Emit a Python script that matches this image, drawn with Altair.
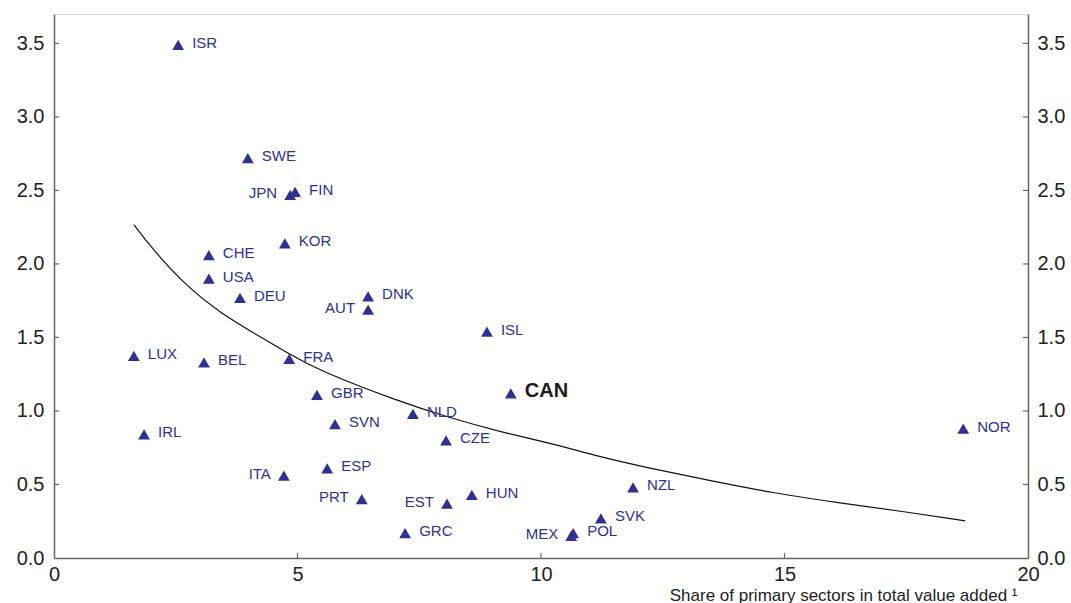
import altair as alt
import pandas as pd

countries = ["ISR", "SWE", "JPN", "FIN", "KOR", "CHE", "USA", "DEU", "DNK", "AUT",
             "ISL", "LUX", "BEL", "FRA", "GBR", "CAN", "NLD", "SVN", "IRL", "CZE",
             "NOR", "ITA", "ESP", "PRT", "EST", "HUN", "NZL", "SVK", "GRC", "MEX", "POL"]
share = [2.55, 3.98, 4.85, 4.95, 4.74, 3.18, 3.18, 3.82, 6.45, 6.45,
         8.89, 1.64, 3.08, 4.83, 5.40, 9.38, 7.37, 5.77, 1.85, 8.05,
         18.67, 4.72, 5.61, 6.32, 8.07, 8.58, 11.89, 11.23, 7.21, 10.62, 10.66]
value = [3.49, 2.72, 2.47, 2.49, 2.14, 2.06, 1.90, 1.77, 1.78, 1.69,
         1.54, 1.375, 1.33, 1.355, 1.11, 1.12, 0.98, 0.91, 0.84, 0.80,
         0.88, 0.56, 0.61, 0.40, 0.37, 0.43, 0.48, 0.27, 0.17, 0.15, 0.17]
label_side = ["right", "right", "left", "right", "right", "right", "right", "right", "right", "left",
              "right", "right", "right", "right", "right", "right", "right", "right", "right", "right",
              "right", "left", "right", "left", "left", "right", "right", "right", "right", "left", "right"]

curve_x = [1.64, 2.03, 2.73, 3.41, 4.09, 4.79, 5.40, 7.10, 8.13, 9.16, 10.18, 11.21,
           12.20, 13.41, 14.76, 16.14, 17.52, 18.71]
curve_y = [2.267, 2.097, 1.845, 1.668, 1.532, 1.396, 1.280, 1.062, 0.953, 0.858, 0.783,
           0.688, 0.613, 0.531, 0.442, 0.374, 0.313, 0.252]

x_ticks = [5, 10, 15]
y_ticks = [0.5, 1.0, 1.5, 2.0, 2.5, 3.0, 3.5]
y_labels = [0, 0.5, 1.0, 1.5, 2.0, 2.5, 3.0, 3.5]

W, H = 974, 544
BLUE = "#2e3192"
FONT = "Liberation Sans"

df = pd.DataFrame({"country": countries, "share": share, "value": value, "side": label_side})
df_curve = pd.DataFrame({"share": curve_x, "value": curve_y})
df_xt = pd.DataFrame({"share": x_ticks})
df_yt = pd.DataFrame({"value": y_ticks})

xscale = alt.Scale(domain=[0, 20], nice=False)
yscale = alt.Scale(domain=[0, 3.7], nice=False)

x_axis = alt.Axis(values=[0, 5, 10, 15, 20], title="Share of primary sectors in total value added ¹",
                  titleAnchor="end", titleAlign="right", titleFontWeight="normal", titleFontSize=17,
                  titlePadding=3, titleX=W - 11,
                  labelFontSize=20, labelPadding=6, ticks=False, grid=False, domainColor="#666",
                  domainWidth=1.5, labelColor="#222", titleColor="#222", labelFlush=False)
yl_axis = alt.Axis(values=y_labels, format=".1f", title=None,
                   orient="left", labelFontSize=20, labelPadding=10, ticks=False, grid=False,
                   domainColor="#666", domainWidth=1.5, labelColor="#222")
yr_axis = alt.Axis(values=y_labels, format=".1f", title=None,
                   orient="right", labelFontSize=20, labelPadding=9, ticks=False, grid=False,
                   domainColor="#666", domainWidth=1.5, labelColor="#222")

base = alt.Chart(df)
XS = alt.X("share:Q", scale=xscale, axis=x_axis)
YS = alt.Y("value:Q", scale=yscale, axis=yl_axis)

points = base.mark_point(shape="triangle-up", filled=True, size=140, color=BLUE, opacity=1).encode(
    x=XS, y=YS)

right_axis_layer = base.mark_point(opacity=0).encode(
    x=XS,
    y=alt.Y("value:Q", scale=yscale, axis=yr_axis),
)

labels_r = base.transform_filter(
    (alt.datum.side == "right") & (alt.datum.country != "CAN")
).mark_text(align="left", baseline="middle", dx=14, dy=-2, fontSize=15, font=FONT, color=BLUE).encode(
    x=XS, y=YS, text="country:N")

labels_l = base.transform_filter(alt.datum.side == "left").mark_text(
    align="right", baseline="middle", dx=-13, dy=-2, fontSize=15, font=FONT, color=BLUE).encode(
    x=XS, y=YS, text="country:N")

label_can = base.transform_filter(alt.datum.country == "CAN").mark_text(
    align="left", baseline="middle", dx=14, dy=-2, fontSize=20, fontWeight="bold", font=FONT,
    color="#1a1a1a").encode(x=XS, y=YS, text="country:N")

curve = alt.Chart(df_curve).mark_line(color="#111", strokeWidth=1.2, interpolate="basis").encode(
    x=XS, y=YS)

xt = alt.Chart(df_xt).mark_rule(color="#666", strokeWidth=1.2).encode(
    x=XS, y=alt.value(H), y2=alt.value(H - 5))
ytl = alt.Chart(df_yt).mark_rule(color="#666", strokeWidth=1.2).encode(
    y=YS, x=alt.value(0), x2=alt.value(5))
ytr = alt.Chart(df_yt).mark_rule(color="#666", strokeWidth=1.2).encode(
    y=YS, x=alt.value(W - 5), x2=alt.value(W))

main = alt.layer(points, curve, xt, ytl, ytr, labels_r, labels_l, label_can)

chart = alt.layer(main, right_axis_layer).resolve_axis(
    y="independent"
).properties(
    width=W, height=H,
    autosize=alt.AutoSizeParams(type="none"),
    padding={"left": 54, "top": 14, "right": 43, "bottom": 45},
).configure_view(stroke="#666", strokeWidth=1.5).configure(font=FONT).configure_axis(
    labelFont=FONT, titleFont=FONT, grid=False)

chart.save("out.html", embed_options={"renderer": "svg", "actions": False})
